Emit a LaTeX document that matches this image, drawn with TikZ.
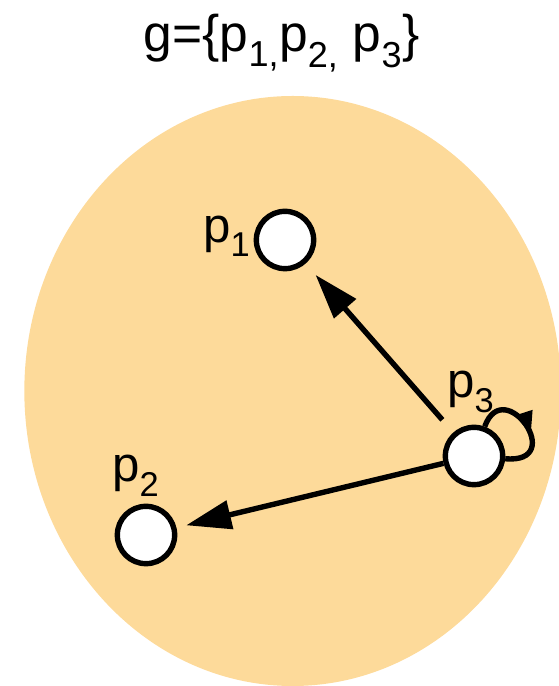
\documentclass[tikz,border=0pt]{standalone}
\usepackage{fontspec}
\setmainfont{Liberation Sans}
\usepackage{xcolor}
\usetikzlibrary{arrows.meta, positioning, decorations.markings}
\definecolor{groupfill}{RGB}{253,218,154}

\begin{document}
\begin{tikzpicture}[
  member/.style={draw, circle, fill=white, line width=4.6pt, minimum size=1.72cm, inner sep=0pt},
  lbl/.style={inner sep=0pt, font=\fontsize{42}{50}\selectfont},
  arrow/.style={-{Triangle[length=1.35cm, width=0.85cm]}, line width=4.6pt},
  selfloop/.style={line width=4.6pt, postaction={decorate},
    decoration={markings, mark=at position 0.6 with {\arrow{Triangle[length=0.7cm, width=0.5cm]}}}}
]
  \useasboundingbox (0,0) rectangle (16.77,20.58);
  \begin{scope}
    \clip (0,0) rectangle (16.77,20.58);
    \fill[groupfill] (8.78,8.85) ellipse [x radius=8.05cm, y radius=8.85cm];
  \end{scope}

  \node[lbl, anchor=base, font=\fontsize{44}{52}\selectfont] (title) at (8.45,19.02) {g=\{p\textsubscript{1,}p\textsubscript{2,} p\textsubscript{3}\}};

  \node[member] (p1) at (8.55,13.38) {};
  \node[member] (p2) at (4.38,4.53) {};
  \node[member] (p3) at (14.22,6.90) {};

  \node[lbl, anchor=base west] (l1) at (6.09,13.29) {p\textsubscript{1}};
  \node[lbl, anchor=base west] (l2) at (3.36,6.12) {p\textsubscript{2}};
  \node[lbl, anchor=base west] (l3) at (13.41,8.64) {p\textsubscript{3}};

  \draw[arrow, shorten <=0.5cm, shorten >=0.45cm] (p3) -- (p1);
  \draw[arrow, shorten >=0.3cm] (p3) -- (p2);
  \draw[selfloop] (p3.70) .. controls +(70:1.7) and +(-5:1.9) .. (p3.-5);
\end{tikzpicture}
\end{document}
